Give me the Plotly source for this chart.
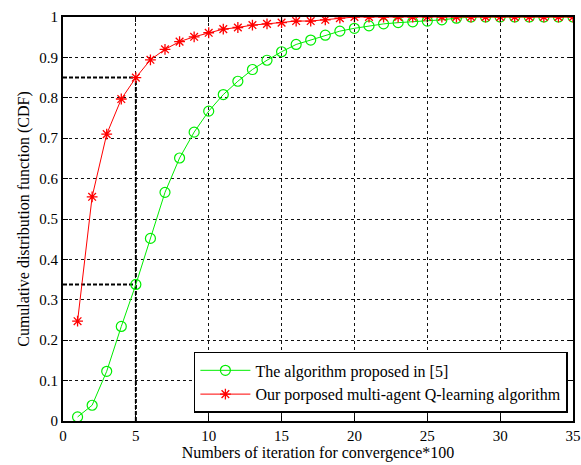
import plotly.graph_objects as go

iterations = list(range(1, 36))
green_cdf = [0.010, 0.039, 0.123, 0.234, 0.338, 0.452, 0.566, 0.651, 0.715, 0.767,
             0.808, 0.841, 0.870, 0.893, 0.914, 0.932, 0.943, 0.955, 0.965, 0.972,
             0.978, 0.983, 0.986, 0.988, 0.990, 0.993, 0.997, 1.0, 1.0, 1.0,
             1.0, 1.0, 1.0, 1.0, 1.0]
red_cdf = [0.247, 0.555, 0.710, 0.797, 0.850, 0.894, 0.920, 0.939, 0.951, 0.961,
           0.970, 0.974, 0.980, 0.983, 0.986, 0.990, 0.990, 0.993, 0.997, 1.0,
           1.0, 1.0, 1.0, 1.0, 1.0, 1.0, 1.0, 1.0, 1.0, 1.0,
           1.0, 1.0, 1.0, 1.0, 1.0]
green_name = "The algorithm proposed in [5]"
red_name = "Our porposed multi-agent Q-learning algorithm"
ref_x = 5
x_ticks = [0, 5, 10, 15, 20, 25, 30, 35]
y_ticks = [0, 0.1, 0.2, 0.3, 0.4, 0.5, 0.6, 0.7, 0.8, 0.9, 1]
y_tick_text = ["0", "0.1", "0.2", "0.3", "0.4", "0.5", "0.6", "0.7", "0.8", "0.9", "1"]

font = "Liberation Serif, Times New Roman, serif"

fig = go.Figure()

# dashed reference lines at x = ref_x
i = iterations.index(ref_x)
r_val, g_val = red_cdf[i], green_cdf[i]
fig.add_trace(go.Scatter(x=[0, ref_x, None, 0, ref_x, None, ref_x, ref_x],
                         y=[r_val, r_val, None, g_val, g_val, None, 0, r_val],
                         mode="lines", connectgaps=False,
                         line=dict(color="black", width=2, dash="4px,2px"),
                         showlegend=False, hoverinfo="skip"))

fig.add_trace(go.Scatter(x=iterations, y=green_cdf, mode="lines+markers", name=green_name,
                         line=dict(color="#00ee00", width=1),
                         marker=dict(symbol="circle-open", size=10, color="#00ee00",
                                     line=dict(width=1.2, color="#00ee00"))))
fig.add_trace(go.Scatter(x=iterations, y=red_cdf, mode="lines+markers", name=red_name,
                         line=dict(color="#ff0000", width=1),
                         marker=dict(symbol="asterisk-open", size=9, color="#ff0000",
                                     line=dict(width=1.3, color="#ff0000"))))

axis_common = dict(showline=True, linecolor="black", linewidth=2, mirror="ticks",
                   ticks="inside", ticklen=5, tickcolor="black",
                   showgrid=True, gridcolor="#111111", gridwidth=1, griddash="dot",
                   zeroline=False, automargin=False,
                   tickfont=dict(family=font, size=15, color="black"))

fig.update_xaxes(range=[0, 35], tickvals=x_ticks, ticktext=[str(t) for t in x_ticks],
                 ticklabeloverflow="allow",
                 title=dict(text="Numbers of iteration for convergence*100",
                            font=dict(family=font, size=16, color="black"), standoff=4),
                 **axis_common)
fig.update_yaxes(range=[0, 1], tickvals=y_ticks, ticktext=y_tick_text,
                 title=dict(text="Cumulative distribution function (CDF)",
                            font=dict(family=font, size=16, color="black"), standoff=6),
                 **axis_common)

fig.update_layout(
    width=581, height=465,
    margin=dict(l=63, r=8, t=17, b=44, autoexpand=False),
    paper_bgcolor="white", plot_bgcolor="white",
    font=dict(family=font, size=15, color="black"),
    legend=dict(x=0.99, y=0.02, xanchor="right", yanchor="bottom",
                bgcolor="white", bordercolor="black", borderwidth=1.5,
                font=dict(family=font, size=16, color="black"),
                tracegroupgap=0, itemwidth=50),
)

fig.write_html("out.html")
